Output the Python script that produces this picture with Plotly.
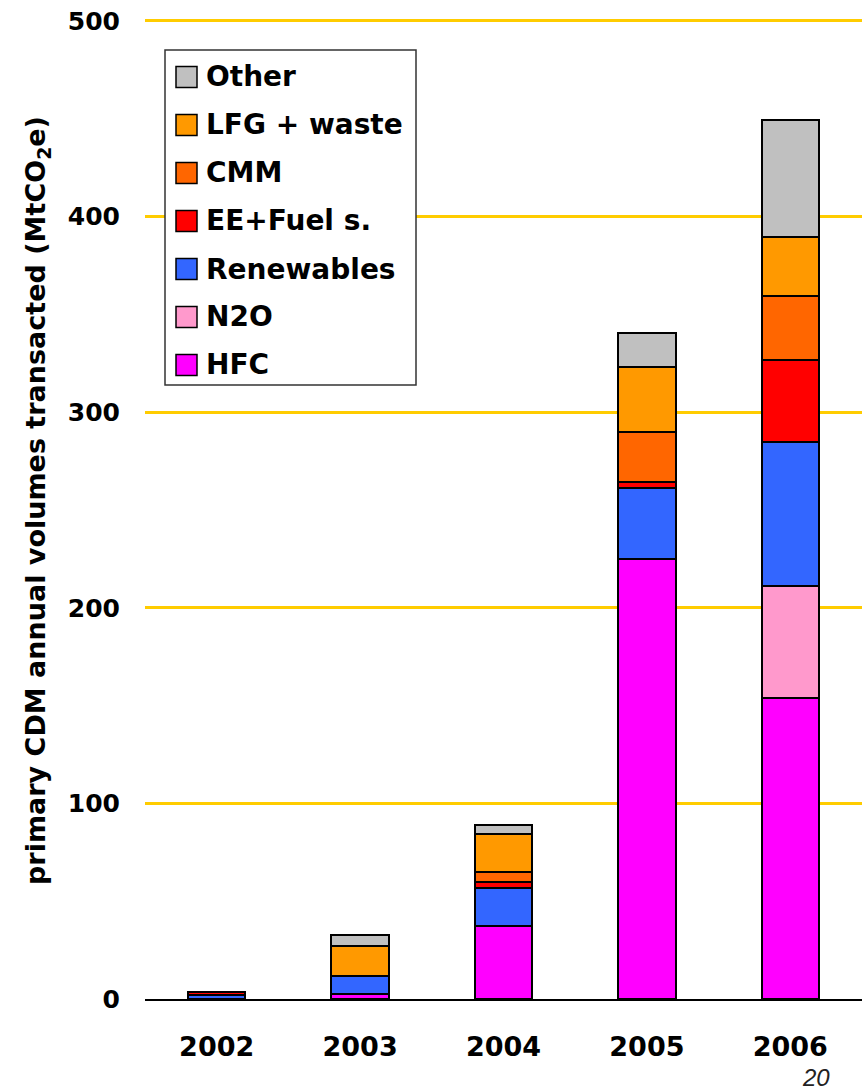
import plotly.graph_objects as go

# Primary CDM annual volumes transacted, MtCO2e, by project type
years = ["2002", "2003", "2004", "2005", "2006"]

hfc = [0, 2.5, 37.2, 225.0, 154.0]
n2o = [0, 0, 0, 0, 57.0]
renewables = [2.0, 9.3, 19.4, 36.2, 73.7]
ee_fuel = [1.6, 0, 3.4, 3.2, 42.2]
cmm = [0, 0, 5.0, 25.6, 32.4]
lfg_waste = [0, 15.5, 19.4, 33.0, 30.2]
other = [0, 5.5, 4.8, 17.4, 60.0]

# stacking order, bottom to top
series = [
    ("HFC", hfc, "#FF00FF"),
    ("N2O", n2o, "#FF99CC"),
    ("Renewables", renewables, "#3366FF"),
    ("EE+Fuel s.", ee_fuel, "#FF0000"),
    ("CMM", cmm, "#FF6600"),
    ("LFG + waste", lfg_waste, "#FF9900"),
    ("Other", other, "#C0C0C0"),
]

y_ticks = [0, 100, 200, 300, 400, 500]
y_max = 502  # a little headroom so the 500 gridline is drawn in full

W, H = 862, 1090
ML, MR, MB = 145, 0, 91
PX_PER_UNIT = 978 / 500
PH = round(PX_PER_UNIT * y_max)
MT = H - MB - PH
PW = W - ML - MR

FONT = "DejaVu Sans"


def px_x(x):
    return (x - ML) / PW


def px_y(y):
    return (H - MB - y) / PH


fig = go.Figure()
for name, vals, color in series:
    fig.add_trace(go.Bar(
        x=years, y=vals, name=name,
        marker=dict(color=color, line=dict(color="black", width=2)),
        showlegend=False,
    ))

fig.update_layout(
    width=W, height=H,
    margin=dict(l=ML, r=MR, t=MT, b=MB),
    barmode="stack",
    bargap=0.6,
    plot_bgcolor="white",
    paper_bgcolor="white",
    font=dict(family=FONT, color="black"),
)

fig.update_yaxes(
    range=[0, y_max],
    tickvals=y_ticks,
    ticktext=[str(v) for v in y_ticks],
    showgrid=True, gridcolor="#FFCC00", gridwidth=3,
    zeroline=False,
    showline=False,
    ticks="",
    ticklabelstandoff=24,
    tickfont=dict(family=FONT, size=25, weight="bold", color="black"),
)
fig.update_xaxes(
    showgrid=False,
    showline=True, linecolor="black", linewidth=2,
    ticks="",
    ticklabelstandoff=23,
    tickfont=dict(family=FONT, size=27, weight="bold", color="black"),
)

# axis title
fig.add_annotation(
    x=px_x(37), y=px_y(501), xref="paper", yref="paper",
    text="primary CDM annual volumes transacted (MtCO<sub>2</sub>e)",
    textangle=-90, showarrow=False, xanchor="center", yanchor="middle",
    font=dict(family=FONT, size=27, weight="bold", color="black"),
)

# legend box
shapes = [dict(
    type="rect", xref="paper", yref="paper",
    x0=px_x(165), x1=px_x(416), y0=px_y(385), y1=px_y(50),
    line=dict(color="#333333", width=1.5), fillcolor="white", layer="above",
)]
for i, (name, vals, color) in enumerate(reversed(series)):
    cy = 77 + 48 * i
    shapes.append(dict(
        type="rect", xref="paper", yref="paper",
        x0=px_x(176), x1=px_x(197), y0=px_y(cy + 10.5), y1=px_y(cy - 10.5),
        line=dict(color="black", width=1.5), fillcolor=color, layer="above",
    ))
    fig.add_annotation(
        x=px_x(204), y=px_y(cy), xref="paper", yref="paper",
        text=name, showarrow=False, xanchor="left", yanchor="middle",
        font=dict(family=FONT, size=28, weight="bold", color="black"),
    )
fig.update_layout(shapes=shapes)

# slide number
fig.add_annotation(
    x=px_x(816), y=px_y(1077), xref="paper", yref="paper",
    text="<i>20</i>", showarrow=False, xanchor="center", yanchor="middle",
    font=dict(family="Liberation Sans", size=24, color="#222222"),
)

fig.write_html("out.html")
